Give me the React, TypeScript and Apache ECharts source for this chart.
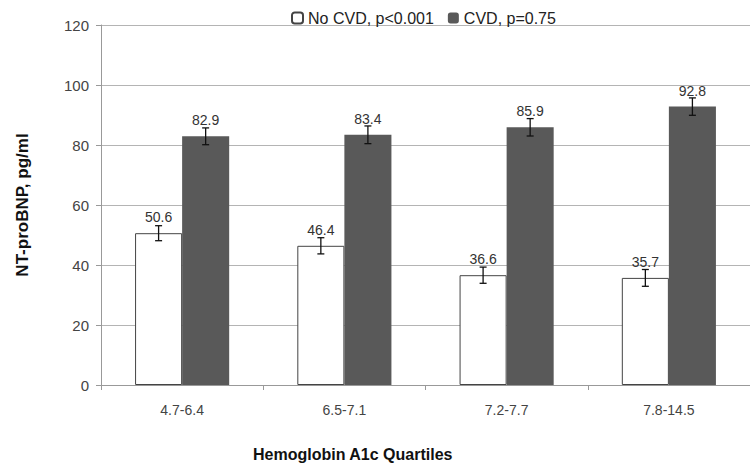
import React, { useEffect, useRef } from "react";
import * as echarts from "echarts";

const categories = ["4.7-6.4", "6.5-7.1", "7.2-7.7", "7.8-14.5"];
const noCvdValues = [50.6, 46.4, 36.6, 35.7];
const noCvdErrors = [2.5, 2.7, 2.7, 2.8];
const cvdValues = [82.9, 83.4, 85.9, 92.8];
const cvdErrors = [2.8, 2.95, 2.9, 2.9];
const seriesNames = ["No CVD, p<0.001", "CVD, p=0.75"];
const yTicks = { min: 0, max: 120, interval: 20 };

const FONT = "'Liberation Sans', Arial, sans-serif";
const BAR_FRACTION = 0.29;

function errorSeries(values: number[], errors: number[], side: number) {
  return {
    type: "custom",
    silent: true,
    z: 5,
    data: values.map((v, i) => [i, v, errors[i]]),
    renderItem: (params: any, api: any) => {
      const xi = api.value(0);
      const m = api.value(1);
      const e = api.value(2);
      const top = api.coord([xi, m + e]);
      const bot = api.coord([xi, m - e]);
      const band = api.size([1, 0])[0];
      const cx = top[0] + side * band * BAR_FRACTION * 0.5;
      const cap = 3.5;
      const style = { stroke: "#111", lineWidth: 1.3 };
      return {
        type: "group",
        children: [
          { type: "line", shape: { x1: cx, y1: top[1], x2: cx, y2: bot[1] }, style },
          { type: "line", shape: { x1: cx - cap, y1: top[1], x2: cx + cap, y2: top[1] }, style },
          { type: "line", shape: { x1: cx - cap, y1: bot[1], x2: cx + cap, y2: bot[1] }, style },
        ],
      };
    },
  };
}

export default function App() {
  const ref = useRef<HTMLDivElement>(null);
  useEffect(() => {
    document.body.style.margin = "0";
    if (!ref.current) return;
    const chart = echarts.init(ref.current, undefined, { renderer: "svg" });
    const label = {
      show: true,
      position: "top",
      distance: 9,
      color: "#333",
      fontSize: 14,
      fontFamily: FONT,
      formatter: (p: any) => p.value.toFixed(1),
    };
    chart.setOption({
      animation: false,
      backgroundColor: "#fff",
      textStyle: { fontFamily: FONT },
      legend: {
        top: 5,
        left: 286,
        itemGap: 14,
        itemWidth: 11,
        itemHeight: 11,
        textStyle: { fontSize: 16, color: "#222", fontFamily: FONT },
        data: seriesNames,
      },
      grid: { left: 101, right: -13, top: 25, bottom: 83, containLabel: false },
      xAxis: {
        type: "category",
        data: categories,
        axisLine: { lineStyle: { color: "#999" } },
        axisTick: { show: true, length: 5, lineStyle: { color: "#999" } },
        axisLabel: { color: "#444", fontSize: 14, margin: 18, fontFamily: FONT },
      },
      yAxis: {
        type: "value",
        min: yTicks.min,
        max: yTicks.max,
        interval: yTicks.interval,
        name: "NT-proBNP, pg/ml",
        nameLocation: "middle",
        nameGap: 70,
        nameTextStyle: { fontSize: 17, fontWeight: "bold", color: "#111", fontFamily: FONT },
        axisLine: { show: true, lineStyle: { color: "#999" } },
        axisTick: { show: true, length: 5, lineStyle: { color: "#999" } },
        axisLabel: { color: "#444", fontSize: 15, margin: 12, fontFamily: FONT },
        splitLine: { lineStyle: { color: "#b4b4b4" } },
      },
      graphic: [
        {
          type: "text",
          left: 253,
          top: 446,
          style: {
            text: "Hemoglobin A1c Quartiles",
            font: `bold 16px ${FONT}`,
            fill: "#111",
          },
        },
      ],
      series: [
        {
          name: seriesNames[0],
          type: "bar",
          data: noCvdValues,
          barGap: "0%",
          barCategoryGap: "42%",
          itemStyle: { color: "#ffffff", borderColor: "#444", borderWidth: 1 },
          label,
        },
        {
          name: seriesNames[1],
          type: "bar",
          data: cvdValues,
          barGap: "0%",
          barCategoryGap: "42%",
          itemStyle: { color: "#595959" },
          label,
        },
        errorSeries(noCvdValues, noCvdErrors, -1),
        errorSeries(cvdValues, cvdErrors, 1),
      ],
    });
    return () => chart.dispose();
  }, []);
  return <div ref={ref} style={{ width: 750, height: 468 }} />;
}
